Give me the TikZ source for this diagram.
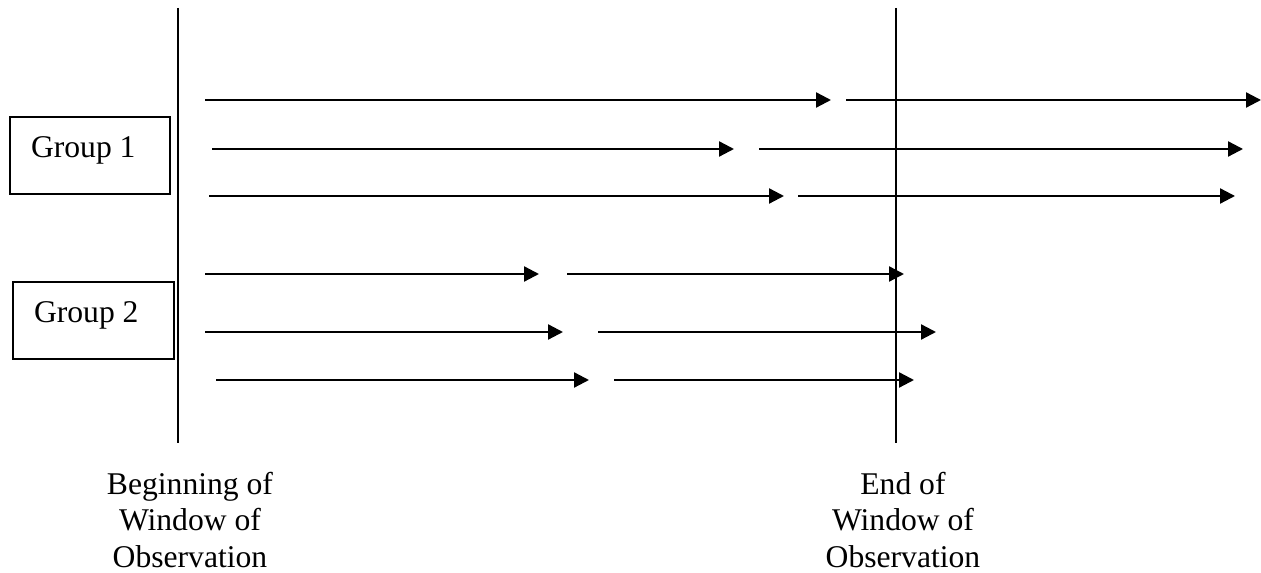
\documentclass[tikz,border=0pt]{standalone}
\usepackage{fontspec}
\setmainfont{Liberation Serif}
\usetikzlibrary{arrows.meta}

\begin{document}
\begin{tikzpicture}[x=0.02cm,y=-0.02cm,
  winline/.style={line width=0.8pt},
  groupbox/.style={draw,line width=0.8pt,inner xsep=0.42cm,inner ysep=0pt,text width=2.36cm,align=flush left,text height=0.82cm,text depth=0.72cm,font=\fontsize{18}{20.7}\selectfont},
  winlabel/.style={align=center,inner sep=0pt,anchor=north,font=\fontsize{18}{20.7}\selectfont},
  spell/.style={line width=1.3pt,-{Triangle[length=0.3cm,width=0.3cm]}}]
\useasboundingbox (0,0) rectangle (1261,573);

% window of observation
\coordinate (bt) at (178,8); \coordinate (bb) at (178,443);
\coordinate (et) at (896,8); \coordinate (eb) at (896,443);
\draw[winline] (bt) -- (bb);
\draw[winline] (et) -- (eb);
\node[winlabel] (blab) at (190,472) {Beginning of\\Window of\\Observation};
\node[winlabel] (elab) at (903,472) {End of\\Window of\\Observation};

% groups
\node[groupbox] (g1) at (90,155.5) {Group 1};
\node[groupbox,text width=2.38cm] (g2) at (93.5,320.5) {Group 2};

% two spells per subject
\foreach \y/\a/\b/\c/\d [count=\i] in {100/205/831/846/1261, 149/212/734/759/1243, 196/209/784/798/1235,
    274/205/539/567/904, 332/205/563/598/936, 380/216/589/614/914}{
  \coordinate (a\i) at (\a,\y); \coordinate (b\i) at (\b,\y);
  \coordinate (c\i) at (\c,\y); \coordinate (d\i) at (\d,\y);
  \draw[spell] (a\i) -- (b\i);
  \draw[spell] (c\i) -- (d\i);
}
\end{tikzpicture}
\end{document}
